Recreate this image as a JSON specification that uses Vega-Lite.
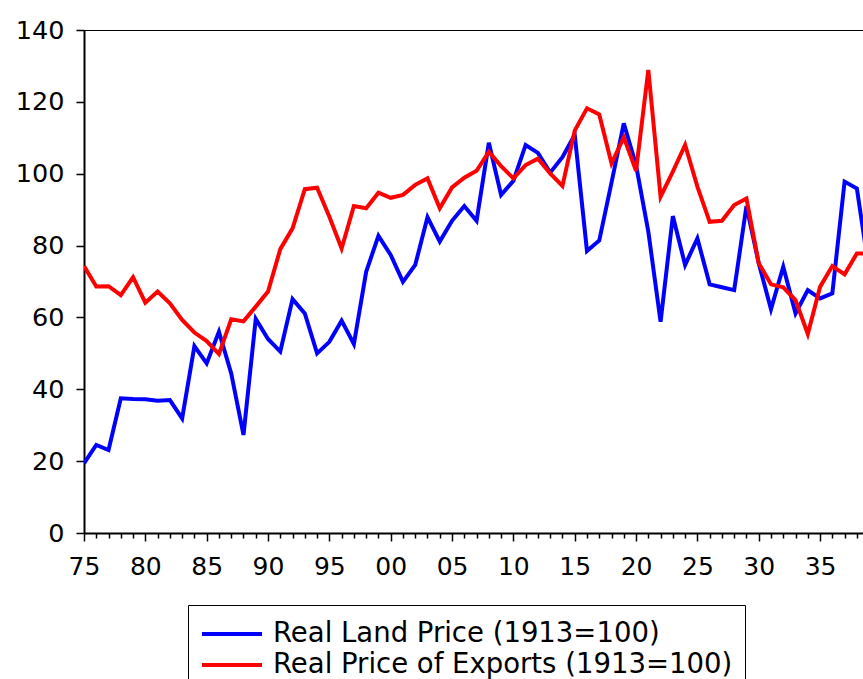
{
  "$schema": "https://vega.github.io/schema/vega-lite/v6.json",
  "width": 779,
  "height": 503,
  "autosize": "none",
  "padding": {"left": 84, "top": 30, "right": 0, "bottom": 146},
  "background": "white",
  "config": {"view": {"stroke": "black", "strokeWidth": 1}, "font": "DejaVu Sans"},
  "data": {
    "values": [
      {"year":1875,"series":"Real Land Price (1913=100)","value":19.4},
      {"year":1876,"series":"Real Land Price (1913=100)","value":24.5},
      {"year":1877,"series":"Real Land Price (1913=100)","value":23.1},
      {"year":1878,"series":"Real Land Price (1913=100)","value":37.5},
      {"year":1879,"series":"Real Land Price (1913=100)","value":37.3},
      {"year":1880,"series":"Real Land Price (1913=100)","value":37.2},
      {"year":1881,"series":"Real Land Price (1913=100)","value":36.8},
      {"year":1882,"series":"Real Land Price (1913=100)","value":37.0},
      {"year":1883,"series":"Real Land Price (1913=100)","value":31.9},
      {"year":1884,"series":"Real Land Price (1913=100)","value":52.0},
      {"year":1885,"series":"Real Land Price (1913=100)","value":47.2},
      {"year":1886,"series":"Real Land Price (1913=100)","value":56.0},
      {"year":1887,"series":"Real Land Price (1913=100)","value":44.4},
      {"year":1888,"series":"Real Land Price (1913=100)","value":27.3},
      {"year":1889,"series":"Real Land Price (1913=100)","value":59.6},
      {"year":1890,"series":"Real Land Price (1913=100)","value":54.0},
      {"year":1891,"series":"Real Land Price (1913=100)","value":50.5},
      {"year":1892,"series":"Real Land Price (1913=100)","value":65.1},
      {"year":1893,"series":"Real Land Price (1913=100)","value":61.1},
      {"year":1894,"series":"Real Land Price (1913=100)","value":50.0},
      {"year":1895,"series":"Real Land Price (1913=100)","value":53.2},
      {"year":1896,"series":"Real Land Price (1913=100)","value":59.1},
      {"year":1897,"series":"Real Land Price (1913=100)","value":52.6},
      {"year":1898,"series":"Real Land Price (1913=100)","value":72.7},
      {"year":1899,"series":"Real Land Price (1913=100)","value":82.7},
      {"year":1900,"series":"Real Land Price (1913=100)","value":77.4},
      {"year":1901,"series":"Real Land Price (1913=100)","value":69.9},
      {"year":1902,"series":"Real Land Price (1913=100)","value":74.6},
      {"year":1903,"series":"Real Land Price (1913=100)","value":87.9},
      {"year":1904,"series":"Real Land Price (1913=100)","value":81.1},
      {"year":1905,"series":"Real Land Price (1913=100)","value":86.9},
      {"year":1906,"series":"Real Land Price (1913=100)","value":91.0},
      {"year":1907,"series":"Real Land Price (1913=100)","value":86.9},
      {"year":1908,"series":"Real Land Price (1913=100)","value":108.6},
      {"year":1909,"series":"Real Land Price (1913=100)","value":94.1},
      {"year":1910,"series":"Real Land Price (1913=100)","value":98.0},
      {"year":1911,"series":"Real Land Price (1913=100)","value":108.0},
      {"year":1912,"series":"Real Land Price (1913=100)","value":105.8},
      {"year":1913,"series":"Real Land Price (1913=100)","value":100.3},
      {"year":1914,"series":"Real Land Price (1913=100)","value":104.6},
      {"year":1915,"series":"Real Land Price (1913=100)","value":110.8},
      {"year":1916,"series":"Real Land Price (1913=100)","value":78.5},
      {"year":1917,"series":"Real Land Price (1913=100)","value":81.4},
      {"year":1918,"series":"Real Land Price (1913=100)","value":97.5},
      {"year":1919,"series":"Real Land Price (1913=100)","value":114.0},
      {"year":1920,"series":"Real Land Price (1913=100)","value":102.4},
      {"year":1921,"series":"Real Land Price (1913=100)","value":83.9},
      {"year":1922,"series":"Real Land Price (1913=100)","value":58.8},
      {"year":1923,"series":"Real Land Price (1913=100)","value":88.2},
      {"year":1924,"series":"Real Land Price (1913=100)","value":74.6},
      {"year":1925,"series":"Real Land Price (1913=100)","value":82.0},
      {"year":1926,"series":"Real Land Price (1913=100)","value":69.2},
      {"year":1927,"series":"Real Land Price (1913=100)","value":68.4},
      {"year":1928,"series":"Real Land Price (1913=100)","value":67.6},
      {"year":1929,"series":"Real Land Price (1913=100)","value":91.0},
      {"year":1930,"series":"Real Land Price (1913=100)","value":75.1},
      {"year":1931,"series":"Real Land Price (1913=100)","value":62.3},
      {"year":1932,"series":"Real Land Price (1913=100)","value":74.1},
      {"year":1933,"series":"Real Land Price (1913=100)","value":61.1},
      {"year":1934,"series":"Real Land Price (1913=100)","value":67.6},
      {"year":1935,"series":"Real Land Price (1913=100)","value":65.3},
      {"year":1936,"series":"Real Land Price (1913=100)","value":66.7},
      {"year":1937,"series":"Real Land Price (1913=100)","value":97.8},
      {"year":1938,"series":"Real Land Price (1913=100)","value":95.9},
      {"year":1939,"series":"Real Land Price (1913=100)","value":73.0},
      {"year":1875,"series":"Real Price of Exports (1913=100)","value":74.3},
      {"year":1876,"series":"Real Price of Exports (1913=100)","value":68.6},
      {"year":1877,"series":"Real Price of Exports (1913=100)","value":68.7},
      {"year":1878,"series":"Real Price of Exports (1913=100)","value":66.2},
      {"year":1879,"series":"Real Price of Exports (1913=100)","value":71.2},
      {"year":1880,"series":"Real Price of Exports (1913=100)","value":64.1},
      {"year":1881,"series":"Real Price of Exports (1913=100)","value":67.2},
      {"year":1882,"series":"Real Price of Exports (1913=100)","value":63.9},
      {"year":1883,"series":"Real Price of Exports (1913=100)","value":59.3},
      {"year":1884,"series":"Real Price of Exports (1913=100)","value":55.8},
      {"year":1885,"series":"Real Price of Exports (1913=100)","value":53.4},
      {"year":1886,"series":"Real Price of Exports (1913=100)","value":49.8},
      {"year":1887,"series":"Real Price of Exports (1913=100)","value":59.5},
      {"year":1888,"series":"Real Price of Exports (1913=100)","value":58.9},
      {"year":1889,"series":"Real Price of Exports (1913=100)","value":63.0},
      {"year":1890,"series":"Real Price of Exports (1913=100)","value":67.2},
      {"year":1891,"series":"Real Price of Exports (1913=100)","value":79.0},
      {"year":1892,"series":"Real Price of Exports (1913=100)","value":84.8},
      {"year":1893,"series":"Real Price of Exports (1913=100)","value":95.7},
      {"year":1894,"series":"Real Price of Exports (1913=100)","value":96.1},
      {"year":1895,"series":"Real Price of Exports (1913=100)","value":88.0},
      {"year":1896,"series":"Real Price of Exports (1913=100)","value":79.2},
      {"year":1897,"series":"Real Price of Exports (1913=100)","value":91.0},
      {"year":1898,"series":"Real Price of Exports (1913=100)","value":90.4},
      {"year":1899,"series":"Real Price of Exports (1913=100)","value":94.7},
      {"year":1900,"series":"Real Price of Exports (1913=100)","value":93.3},
      {"year":1901,"series":"Real Price of Exports (1913=100)","value":94.1},
      {"year":1902,"series":"Real Price of Exports (1913=100)","value":96.9},
      {"year":1903,"series":"Real Price of Exports (1913=100)","value":98.7},
      {"year":1904,"series":"Real Price of Exports (1913=100)","value":90.4},
      {"year":1905,"series":"Real Price of Exports (1913=100)","value":96.2},
      {"year":1906,"series":"Real Price of Exports (1913=100)","value":98.9},
      {"year":1907,"series":"Real Price of Exports (1913=100)","value":100.8},
      {"year":1908,"series":"Real Price of Exports (1913=100)","value":106.1},
      {"year":1909,"series":"Real Price of Exports (1913=100)","value":102.1},
      {"year":1910,"series":"Real Price of Exports (1913=100)","value":98.7},
      {"year":1911,"series":"Real Price of Exports (1913=100)","value":102.4},
      {"year":1912,"series":"Real Price of Exports (1913=100)","value":104.2},
      {"year":1913,"series":"Real Price of Exports (1913=100)","value":100.1},
      {"year":1914,"series":"Real Price of Exports (1913=100)","value":96.6},
      {"year":1915,"series":"Real Price of Exports (1913=100)","value":112.0},
      {"year":1916,"series":"Real Price of Exports (1913=100)","value":118.2},
      {"year":1917,"series":"Real Price of Exports (1913=100)","value":116.5},
      {"year":1918,"series":"Real Price of Exports (1913=100)","value":102.9},
      {"year":1919,"series":"Real Price of Exports (1913=100)","value":110.1},
      {"year":1920,"series":"Real Price of Exports (1913=100)","value":100.8},
      {"year":1921,"series":"Real Price of Exports (1913=100)","value":128.9},
      {"year":1922,"series":"Real Price of Exports (1913=100)","value":93.6},
      {"year":1923,"series":"Real Price of Exports (1913=100)","value":100.6},
      {"year":1924,"series":"Real Price of Exports (1913=100)","value":108.0},
      {"year":1925,"series":"Real Price of Exports (1913=100)","value":96.4},
      {"year":1926,"series":"Real Price of Exports (1913=100)","value":86.6},
      {"year":1927,"series":"Real Price of Exports (1913=100)","value":86.9},
      {"year":1928,"series":"Real Price of Exports (1913=100)","value":91.3},
      {"year":1929,"series":"Real Price of Exports (1913=100)","value":93.1},
      {"year":1930,"series":"Real Price of Exports (1913=100)","value":75.1},
      {"year":1931,"series":"Real Price of Exports (1913=100)","value":69.2},
      {"year":1932,"series":"Real Price of Exports (1913=100)","value":68.4},
      {"year":1933,"series":"Real Price of Exports (1913=100)","value":64.8},
      {"year":1934,"series":"Real Price of Exports (1913=100)","value":55.4},
      {"year":1935,"series":"Real Price of Exports (1913=100)","value":68.5},
      {"year":1936,"series":"Real Price of Exports (1913=100)","value":74.3},
      {"year":1937,"series":"Real Price of Exports (1913=100)","value":72.0},
      {"year":1938,"series":"Real Price of Exports (1913=100)","value":77.8},
      {"year":1939,"series":"Real Price of Exports (1913=100)","value":77.8}
    ]
  },
  "layer": [
    {
      "mark": {"type": "line", "clip": true, "strokeWidth": 4},
      "encoding": {
        "x": {
          "field": "year", "type": "quantitative",
          "scale": {"domain": [1875, 1938.5], "nice": false, "zero": false},
          "axis": {
            "orient": "bottom", "title": null, "grid": false,
            "values": [1875,1880,1885,1890,1895,1900,1905,1910,1915,1920,1925,1930,1935],
            "labelExpr": "format(datum.value % 100, '02d')",
            "tickSize": 8, "tickColor": "black", "tickWidth": 1.5,
            "domainColor": "black", "domainWidth": 2,
            "labelFontSize": 25, "labelColor": "black", "labelPadding": 13,
            "labelFlush": false, "labelOverlap": false
          }
        },
        "y": {
          "field": "value", "type": "quantitative",
          "scale": {"domain": [0, 140], "nice": false},
          "axis": {
            "title": null, "grid": false,
            "values": [0,20,40,60,80,100,120,140],
            "tickSize": 8, "tickColor": "black", "tickWidth": 1.5,
            "domainColor": "black", "domainWidth": 2,
            "labelFontSize": 25.5, "labelColor": "black", "labelPadding": 12
          }
        },
        "color": {
          "field": "series", "type": "nominal",
          "scale": {"domain": ["Real Land Price (1913=100)", "Real Price of Exports (1913=100)"], "range": ["#0000ff", "#ff0000"]},
          "legend": {
            "orient": "none", "legendX": 104, "legendY": 575,
            "title": null, "direction": "vertical",
            "symbolType": "M-1,0H3", "symbolSize": 900, "symbolStrokeWidth": 4,
            "labelFont": "DejaVu Sans", "labelFontSize": 27.5, "labelColor": "black",
            "labelOffset": 39, "labelLimit": 700,
            "padding": 12, "rowPadding": -4,
            "strokeColor": "black", "fillColor": "white"
          }
        }
      }
    },
    {
      "mark": {"type": "rule", "opacity": 0},
      "encoding": {
        "x": {
          "field": "year", "type": "quantitative",
          "axis": {
            "orient": "bottom", "title": null, "grid": false, "labels": false, "domain": false,
            "values": [1876,1877,1878,1879,1881,1882,1883,1884,1886,1887,1888,1889,1891,1892,1893,1894,1896,1897,1898,1899,1901,1902,1903,1904,1906,1907,1908,1909,1911,1912,1913,1914,1916,1917,1918,1919,1921,1922,1923,1924,1926,1927,1928,1929,1931,1932,1933,1934,1936,1937,1938],
            "tickSize": 5, "tickColor": "black", "tickWidth": 1.5
          }
        }
      }
    }
  ],
  "resolve": {"axis": {"x": "independent"}}
}
